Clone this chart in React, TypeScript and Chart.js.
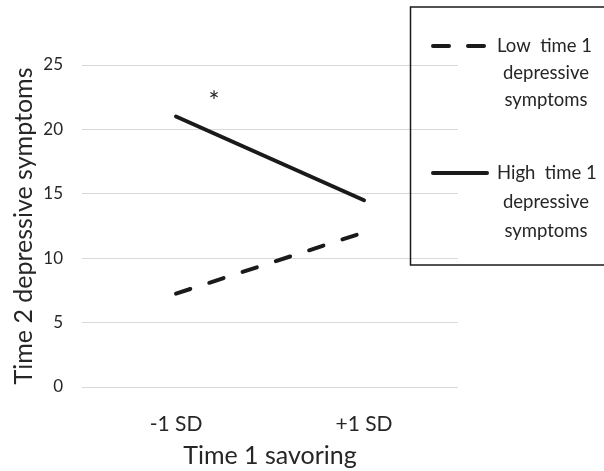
import React, { useEffect, useRef } from "react";
import { Chart, registerables } from "chart.js";

Chart.register(...registerables);

const categories = ["-1 SD", "+1 SD"];
const lowSeries = [7.25, 12];
const highSeries = [21, 14.5];
const yTicks = [0, 5, 10, 15, 20, 25];
const lowLegend = ["Low  time 1", "depressive", "symptoms"];
const highLegend = ["High  time 1", "depressive", "symptoms"];
const xTitle = "Time 1 savoring";
const yTitle = "Time 2 depressive symptoms";
const starLabel = "*";
const starValue = 22.6;

const FONT = "Lato";
const TEXT = "#262626";

const overlayPlugin = {
  id: "overlay",
  afterDraw(chart: any) {
    const ctx = chart.ctx;
    const xs = chart.scales.x;
    const ys = chart.scales.y;
    ctx.save();
    // asterisk
    ctx.fillStyle = TEXT;
    ctx.font = `26px ${FONT}`;
    ctx.textAlign = "center";
    ctx.textBaseline = "alphabetic";
    ctx.fillText(starLabel, xs.getPixelForValue(0) + 38, ys.getPixelForValue(starValue) + 15);

    // legend box
    const bx = chart.chartArea.right - 48;
    ctx.strokeStyle = "#1a1a1a";
    ctx.lineWidth = 1.5;
    ctx.setLineDash([]);
    ctx.strokeRect(bx + 0.5, 7, 300, 258);

    const drawItem = (y: number, dashed: boolean, lines: string[], spacing: number) => {
      ctx.beginPath();
      ctx.lineWidth = 4;
      ctx.lineCap = "round";
      ctx.strokeStyle = "#1a1a1a";
      ctx.setLineDash(dashed ? [16, 19] : []);
      ctx.moveTo(bx + 23, y);
      ctx.lineTo(bx + 77, y);
      ctx.stroke();
      ctx.setLineDash([]);
      ctx.fillStyle = TEXT;
      ctx.font = `18.5px ${FONT}`;
      ctx.textBaseline = "middle";
      ctx.textAlign = "left";
      ctx.fillText(lines[0], bx + 87, y);
      ctx.textAlign = "center";
      for (let i = 1; i < lines.length; i++) {
        ctx.fillText(lines[i], bx + 136, y + spacing * i);
      }
    };
    drawItem(46, true, lowLegend, 27);
    drawItem(173, false, highLegend, 29);
    ctx.restore();
  },
};

export default function App() {
  const ref = useRef<HTMLCanvasElement>(null);
  useEffect(() => {
    document.body.style.margin = "0";
    const chart = new Chart(ref.current!, {
      type: "line",
      data: {
        labels: categories,
        datasets: [
          {
            label: "Low time 1 depressive symptoms",
            data: lowSeries,
            borderColor: "#1a1a1a",
            borderWidth: 4,
            borderDash: [15, 20],
            borderCapStyle: "round",
            pointRadius: 0,
            fill: false,
          },
          {
            label: "High time 1 depressive symptoms",
            data: highSeries,
            borderColor: "#1a1a1a",
            borderWidth: 4,
            borderCapStyle: "round",
            pointRadius: 0,
            fill: false,
          },
        ],
      },
      options: {
        animation: false,
        responsive: false,
        layout: { padding: { top: 65, right: 146, left: 0, bottom: 0 } },
        plugins: { legend: { display: false }, tooltip: { enabled: false } },
        scales: {
          x: {
            type: "category",
            offset: true,
            grid: { display: false, drawTicks: false },
            border: { display: false },
            ticks: { color: TEXT, font: { family: FONT, size: 21 }, padding: 25 },
            title: {
              display: true,
              text: xTitle,
              color: TEXT,
              font: { family: FONT, size: 25 },
              padding: { top: 0, bottom: 0 },
            },
            afterFit(scale: any) {
              scale.height = 84;
            },
          },
          y: {
            min: 0,
            max: 25,
            afterBuildTicks(scale: any) {
              scale.ticks = yTicks.map((v) => ({ value: v }));
            },
            grid: { color: "#d9d9d9", lineWidth: 1, drawTicks: false },
            border: { display: false },
            ticks: { color: TEXT, font: { family: FONT, size: 17 }, padding: 19 },
            title: {
              display: true,
              text: yTitle,
              color: TEXT,
              font: { family: FONT, size: 25 },
              padding: { top: 9, bottom: 0 },
            },
            afterFit(scale: any) {
              scale.width = 82;
            },
          },
        },
      },
      plugins: [overlayPlugin],
    } as any);
    return () => chart.destroy();
  }, []);
  return (
    <div style={{ position: "absolute", left: 0, top: 0, width: 604, height: 471 }}>
      <canvas ref={ref} width={604} height={471} />
    </div>
  );
}
